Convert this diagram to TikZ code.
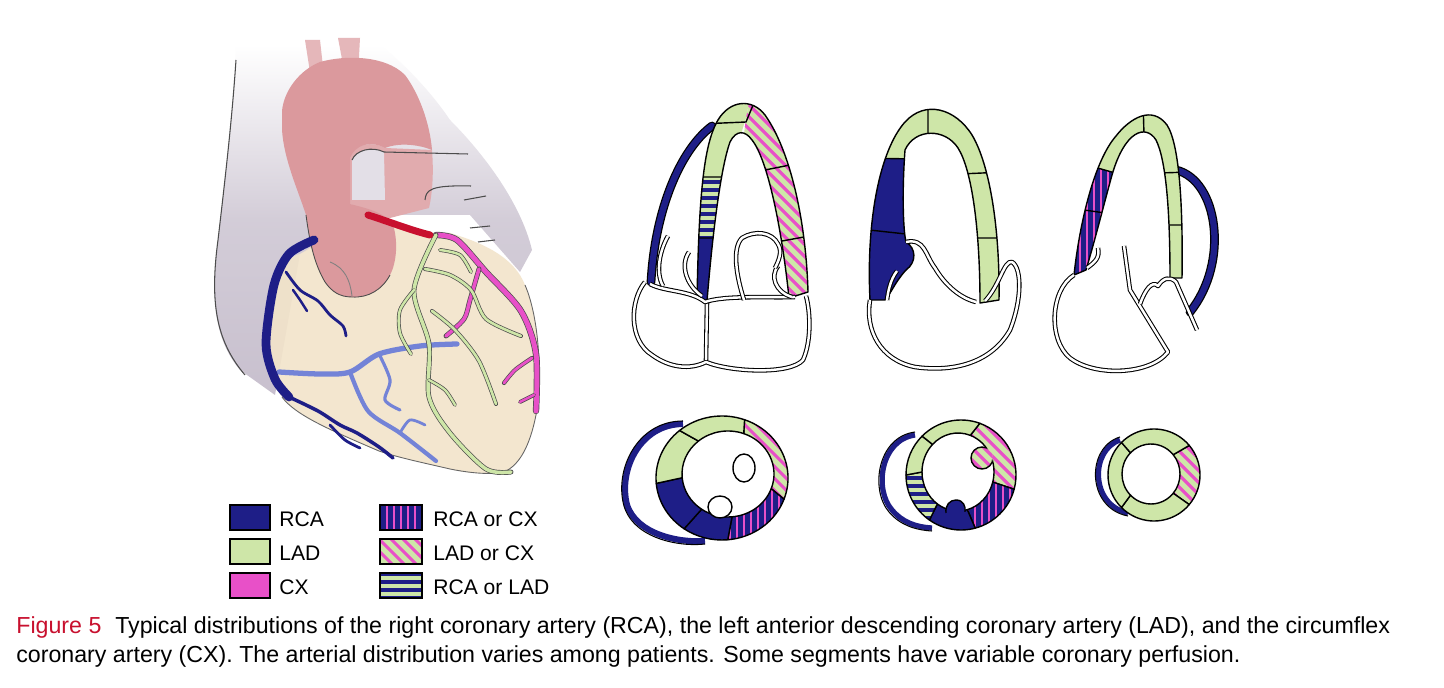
\documentclass[tikz,border=0pt]{standalone}
\usepackage{fontspec}
\setmainfont{Liberation Sans}
\definecolor{cRCA}{RGB}{30,30,135}
\definecolor{cLAD}{RGB}{206,230,168}
\definecolor{cCX}{RGB}{232,80,200}
\definecolor{cGray}{RGB}{200,192,206}
\definecolor{cAorta}{RGB}{212,135,140}
\definecolor{cCream}{RGB}{242,228,202}
\definecolor{cRed}{RGB}{200,16,46}
\definecolor{cBlue2}{RGB}{80,100,205}
\tikzset{
 segl/.style={draw=black,line width=0.8pt,line join=round},
 dbl/.style={draw=black,line width=0.6pt,double=white,double distance=1.4pt,line join=round},
 leg/.style={draw=black,line width=1.2pt},
 legt/.style={anchor=west,font=\fontsize{12}{14}\selectfont,inner sep=0pt},
 capt/.style={anchor=base west,inner sep=0pt,font=\fontsize{13.2}{15}\selectfont},
}
\newcommand\Gfill{\fill[cLAD](0,0) rectangle (1444,688);}
\newcommand\Nfill{\fill[cRCA](0,0) rectangle (1444,688);}
\newcommand\Dfill{\fill[cLAD](0,0) rectangle (1444,688);\foreach \k in {-700,-688,...,1440}{\draw[cCX,line width=1.8pt](\k,0)--++(700,700);}}
\newcommand\Vfill{\fill[cRCA](0,0) rectangle (1444,688);\foreach \k in {2,9,...,1440}{\draw[cCX,line width=1.5pt](\k,0)--(\k,688);}}
\newcommand\Hfill{\fill[cRCA](0,0) rectangle (1444,688);\foreach \k in {2,10,...,688}{\draw[cLAD,line width=1.9pt](0,\k)--(1444,\k);}}
\newcommand\ring[8]{([shift={#1}]#7:#2 and #3) arc[start angle=#7,end angle=#8,x radius=#2,y radius=#3] -- ([shift={#4}]#8:#5 and #6) arc[start angle=#8,end angle=#7,x radius=#5,y radius=#6] -- cycle}
\newcommand\RA[2]{\ring{(722,478)}{66}{62}{(728,474)}{46}{43}{#1}{#2}}
\newcommand\RB[2]{\ring{(961,475)}{55}{55}{(958,472)}{36}{39}{#1}{#2}}
\newcommand\RC[2]{\ring{(1154,475)}{46}{46}{(1151,474)}{29}{30}{#1}{#2}}
\newcommand\segfill[2]{\begin{scope}\clip #2; #1\end{scope}\draw[segl] #2;}
\newcommand\artery[2]{\draw[black,line width=5pt,line cap=round] #2; \draw[#1,line width=3.6pt,line cap=round] #2;}
\newcommand\ves[3]{\draw[#1,line width=#2,line cap=round,line join=round] plot[smooth] coordinates {#3};}
\newcommand\oves[3]{\draw[black!70,line width=#2+0.8pt,line cap=round,line join=round] plot[smooth] coordinates {#3};\draw[#1,line width=#2,line cap=round,line join=round] plot[smooth] coordinates {#3};}
\begin{document}
\begin{tikzpicture}[x=0.02cm,y=-0.02cm]
\useasboundingbox (0,0) rectangle (1444,688);
\fill[white] (0,0) rectangle (1444,688);

% ================= HEART =================
\shade[top color=white,bottom color=cGray,middle color=cGray!80] (236,45) .. controls (232,120) and (225,180) .. (218,240) .. controls (210,300) and (215,340) .. (240,370) -- (275,395) -- (300,254) -- (380,215) -- (470,215) -- (520,272) -- (532,250) .. controls (520,200) and (480,150) .. (450,120) .. controls (430,90) and (400,60) .. (380,45) -- cycle;
\draw[black!70,line width=0.6pt] (236,60) .. controls (232,120) and (225,180) .. (218,240) .. controls (210,300) and (215,340) .. (245,375);
% heart body
\fill[cCream,opacity=0.9] (371,211) .. controls (390,222) and (405,230) .. (421,233) -- (450,233) .. controls (490,245) and (515,260) .. (525,285) .. controls (540,320) and (542,380) .. (536,415) .. controls (530,445) and (520,465) .. (504,472) .. controls (480,475) and (460,472) .. (450,469) .. controls (420,462) and (400,458) .. (379,451) .. controls (330,430) and (295,415) .. (282,397) .. controls (270,380) and (264,360) .. (266,344) .. controls (266,320) and (270,300) .. (275,285) .. controls (282,265) and (292,255) .. (300,254) -- cycle;
\draw[black!60,line width=0.5pt] (282,397) .. controls (295,415) and (330,430) .. (379,451) .. controls (400,458) and (420,462) .. (450,469) .. controls (470,473) and (490,475) .. (504,472) .. controls (520,465) and (530,445) .. (536,415) .. controls (542,380) and (540,320) .. (525,285);
% aorta
\fill[cAorta!70] (350,158) .. controls (352,145) and (372,140) .. (385,148) -- (432,150) .. controls (434,175) and (432,195) .. (429,208) -- (386,219) -- (350,204) -- cycle;
\fill[cAorta!60] (305,40) -- (312,85) -- (325,85) -- (320,40) -- cycle;
\fill[cAorta!60] (338,38) -- (345,75) -- (358,75) -- (360,38) -- cycle;
\fill[cAorta!85] (282,111) .. controls (284,90) and (300,70) .. (320,62) .. controls (345,55) and (385,55) .. (405,75) .. controls (420,95) and (430,125) .. (432,150) .. controls (420,145) and (400,142) .. (385,148) .. controls (370,140) and (355,145) .. (350,158) -- (350,204) .. controls (365,208) and (385,212) .. (393,225) .. controls (398,240) and (397,262) .. (390,275) .. controls (382,290) and (368,298) .. (352,297) .. controls (340,297) and (332,292) .. (325,282) .. controls (315,265) and (310,245) .. (306,215) .. controls (298,190) and (284,160) .. (282,130) -- cycle;
\draw[black!70,line width=0.5pt] (306,215) .. controls (310,245) and (315,265) .. (325,282) .. controls (332,292) and (340,297) .. (352,297) .. controls (368,298) and (382,290) .. (390,275);
\draw[black!50,line width=0.5pt] (352,296) .. controls (350,280) and (345,268) .. (330,262);
\fill[cGray!50] (352,160) .. controls (356,150) and (372,146) .. (384,152) -- (385,200) -- (352,200) -- cycle;
\draw[black!70,line width=0.6pt] (352,160) .. controls (356,150) and (372,146) .. (384,152) -- (468,154);
\draw[black!70,line width=0.6pt] (425,200) .. controls (426,190) and (430,185) .. (471,186);
\draw[black!70,line width=0.6pt] (464,200) -- (486,196) (470,228) -- (490,226) (478,242) -- (495,240);
% vessels
\ves{cBlue2!80}{3pt}{(279,372) (320,374) (350,372) (379,354) (420,346) (457,344)}
\ves{cBlue2!80}{2.4pt}{(350,372) (368,411) (400,433) (436,461)}
\ves{cBlue2!80}{1.8pt}{(379,354) (390,380) (385,400) (400,410)}
\ves{cBlue2!80}{1.6pt}{(400,433) (410,420) (425,425)}
\ves{cRCA}{1.6pt}{(286,272) (300,290) (318,301) (330,315) (343,326) (346,336)}
\ves{cRCA}{1.4pt}{(293,290) (300,300) (307,311)}
\ves{cRCA}{2pt}{(289,397) (318,411) (340,425) (357,433) (379,447) (393,458)}
\ves{cRCA}{1.6pt}{(330,425) (345,440) (360,448)}
\ves{cRCA}{5pt}{(314,240) (289,254) (274,285) (266,344) (275,379) (289,397)}
\oves{cCX}{2.8pt}{(436,235) (457,240) (486,272) (521,311) (536,354) (536,411)}
\oves{cCX}{2pt}{(479,269) (470,300) (464,319) (446,336)}
\oves{cCX}{1.6pt}{(532,358) (515,370) (504,383)}
\oves{cCX}{1.4pt}{(534,395) (520,402)}
\oves{cLAD}{2pt}{(436,235) (414,290) (429,344) (429,397) (450,433) (486,469) (511,472)}
\oves{cLAD}{1.5pt}{(425,269) (450,275) (471,290) (486,319) (521,336)}
\oves{cLAD}{1.5pt}{(432,311) (455,330) (479,361) (496,404)}
\oves{cLAD}{1.4pt}{(414,290) (400,310) (400,333) (411,354)}
\oves{cLAD}{1.4pt}{(440,250) (460,255) (471,272)}
\oves{cLAD}{1.3pt}{(429,380) (445,390) (455,405)}
\draw[cRed,line width=4pt,line cap=round] (368,215) .. controls (390,222) and (410,230) .. (430,235);

% legend
\fill[cRCA] (230,505) rectangle (270,530);
\fill[cLAD] (230,539) rectangle (270,564);
\fill[cCX] (230,573) rectangle (270,598);
\begin{scope}\clip (380,505) rectangle (422,530); \Vfill \end{scope}
\begin{scope}\clip (380,539) rectangle (422,564); \Dfill \end{scope}
\begin{scope}\clip (380,573) rectangle (422,598); \Hfill \end{scope}
\draw[leg] (230,505) rectangle (270,530) (230,539) rectangle (270,564) (230,573) rectangle (270,598);
\draw[leg] (380,505) rectangle (422,530) (380,539) rectangle (422,564) (380,573) rectangle (422,598);
\node[legt] (tRCA) at (279,519) {RCA};
\node[legt] (tLAD) at (279,553) {LAD};
\node[legt] (tCX) at (279,587) {CX};
\node[legt] (tRC) at (433,519) {RCA or CX};
\node[legt] (tLC) at (433,553) {LAD or CX};
\node[legt] (tRL) at (433,587) {RCA or LAD};

% ================= LONG AXIS VIEW 1 =================
\def\bandA{(697,298) .. controls (699,200) and (703,145) .. (718,120) .. controls (730,100) and (752,98) .. (765,115) .. controls (790,150) and (806,220) .. (808,292) -- (789,298) .. controls (782,230) and (768,160) .. (752,140) .. controls (745,130) and (736,130) .. (730,142) .. controls (720,170) and (712,240) .. (707,301) -- cycle}
\artery{cRCA}{(712,126) .. controls (680,150) and (655,210) .. (651,282)}
\begin{scope}\clip \bandA;
 \begin{scope}\clip (650,60)--(757,60)--(746,118)--(736,150)--(736,177)--(650,177)--cycle; \Gfill\end{scope}
 \begin{scope}\clip (650,177) rectangle (736,238); \Hfill\end{scope}
 \begin{scope}\clip (650,238) rectangle (736,320); \Nfill\end{scope}
 \begin{scope}\clip (757,60)--(900,60)--(900,320)--(742,320)--(742,150)--(746,118)--cycle; \Dfill\end{scope}
 \draw[segl] (700,124)--(746,122)--(756,98) (690,177)--(740,177) (690,238)--(740,238) (750,173)--(810,161) (760,245)--(815,235);
\end{scope}
\draw[segl] \bandA;
\draw[dbl] (645,282) .. controls (630,300) and (628,340) .. (652,355) .. controls (670,368) and (690,370) .. (706,362) .. controls (730,372) and (790,375) .. (803,360) .. controls (812,340) and (810,310) .. (806,296);
\draw[dbl] (707,302) -- (706,360);
\draw[dbl] (650,284) .. controls (665,292) and (690,290) .. (705,302) .. controls (725,295) and (770,298) .. (795,297);
\draw[dbl] (668,236) .. controls (660,250) and (655,272) .. (663,286);
\draw[dbl] (689,252) .. controls (680,265) and (686,285) .. (702,296);
\draw[dbl] (778,266) .. controls (770,276) and (775,292) .. (792,297);
\draw[dbl] (744,300) .. controls (736,275) and (732,248) .. (742,238) .. controls (755,230) and (772,232) .. (778,244) .. controls (783,252) and (778,262) .. (775,268);

% ================= LONG AXIS VIEW 2 =================
\def\bandB{(870,300) .. controls (866,220) and (880,150) .. (905,122) .. controls (925,100) and (955,108) .. (972,135) .. controls (990,165) and (1000,230) .. (999,300) -- (980,303) .. controls (980,230) and (972,170) .. (958,148) .. controls (945,128) and (915,128) .. (905,150) .. controls (902,190) and (903,230) .. (906,242) .. controls (916,248) and (917,262) .. (906,270) .. controls (895,282) and (890,295) .. (885,300) -- cycle}
\begin{scope}\clip \bandB;
 \Gfill
 \begin{scope}\clip (850,159) rectangle (916,320); \Nfill\end{scope}
 \draw[segl] (860,158)--(915,159) (928,100)--(928,135) (960,174)--(1005,172) (970,238)--(1005,238) (860,229)--(915,235);
\end{scope}
\draw[segl] \bandB;
\draw[dbl] (870,300) .. controls (865,330) and (880,360) .. (915,367) .. controls (950,372) and (990,365) .. (1010,330) .. controls (1022,300) and (1022,268) .. (1012,262) .. controls (1004,260) and (1000,285) .. (985,301);
\draw[dbl] (906,242) .. controls (925,238) and (925,255) .. (935,268) .. controls (945,285) and (960,298) .. (976,302);
\draw[dbl] (897,271) .. controls (890,280) and (888,292) .. (887,300);

% ================= LONG AXIS VIEW 3 =================
\def\bandC{(1074,275) .. controls (1080,220) and (1095,160) .. (1116,136) .. controls (1130,118) and (1152,105) .. (1167,125) .. controls (1180,145) and (1183,210) .. (1182,278) -- (1170,278) .. controls (1170,210) and (1166,160) .. (1156,140) .. controls (1146,124) and (1125,130) .. (1112,175) .. controls (1105,200) and (1095,240) .. (1086,270) -- cycle}
\artery{cRCA}{(1176,170) .. controls (1218,180) and (1230,262) .. (1190,312)}
\begin{scope}\clip \bandC;
 \Gfill
 \begin{scope}\clip (1000,140)--(1122,175)--(1122,320)--(1000,320)--cycle; \Vfill\end{scope}
 \draw[segl] (1000,140)--(1122,175) (1070,208)--(1105,213) (1143,100)--(1144,135) (1160,173)--(1190,172) (1160,225)--(1190,225);
\end{scope}
\draw[segl] \bandC;
\draw[dbl] (1074,275) .. controls (1050,290) and (1048,340) .. (1070,358) .. controls (1095,377) and (1150,375) .. (1168,352) -- (1130,290) -- (1124,246);
\draw[dbl] (1087,268) .. controls (1095,262) and (1100,258) .. (1098,248);
\draw[dbl] (1140,304) .. controls (1145,290) and (1152,280) .. (1158,286) .. controls (1163,278) and (1170,276) .. (1176,282) -- (1197,330);

% ================= SHORT AXIS 1 =================
\draw[cRCA,line width=3.5pt] (683,424) .. controls (640,424) and (618,470) .. (627,505) .. controls (637,535) and (680,543) .. (705,541);
\draw[black,line width=0.6pt] (683,421) .. controls (637,421) and (614,470) .. (624,506) .. controls (634,539) and (680,547) .. (705,544);
\segfill{\Dfill}{\RA{-70}{20}}
\segfill{\Vfill}{\RA{20}{85}}
\segfill{\Nfill}{\RA{85}{125}}
\segfill{\Nfill}{\RA{125}{175}}
\segfill{\Gfill}{\RA{175}{230}}
\segfill{\Gfill}{\RA{230}{290}}
\draw[segl,fill=white] (744,468) ellipse [x radius=11,y radius=14];
\draw[segl,fill=white] (720,507) ellipse [x radius=12,y radius=11];

% ================= SHORT AXIS 2 =================
\draw[cRCA,line width=3pt] (915,435) .. controls (880,440) and (874,490) .. (892,510) .. controls (902,522) and (915,527) .. (932,528);
\draw[black,line width=0.6pt] (915,432) .. controls (877,437) and (870,490) .. (889,512) .. controls (900,525) and (915,530) .. (932,531);
\segfill{\Dfill}{\RB{-70}{15}}
\segfill{\Vfill}{\RB{15}{75}}
\segfill{\Nfill}{\RB{75}{125}}
\segfill{\Hfill}{\RB{125}{180}}
\segfill{\Gfill}{\RB{180}{225}}
\segfill{\Gfill}{\RB{225}{290}}
\fill[cRCA] (946,516) .. controls (945,505) and (950,500) .. (956,500) .. controls (963,500) and (966,506) .. (965,516) -- cycle;
\draw[segl] (946,513) .. controls (945,505) and (950,500) .. (956,500) .. controls (963,500) and (966,506) .. (965,512);
\begin{scope}\clip (982,458) circle (11); \Dfill\end{scope}
\begin{scope}\clip (958,472) ellipse [x radius=36,y radius=39]; \draw[segl] (982,458) circle (11);\end{scope}

% ================= SHORT AXIS 3 =================
\draw[cRCA,line width=3pt] (1120,440) .. controls (1090,450) and (1090,505) .. (1128,513);
\draw[black,line width=0.6pt] (1120,437) .. controls (1086,447) and (1086,508) .. (1128,516);
\segfill{\Dfill}{\RC{-40}{40}}
\segfill{\Gfill}{\RC{40}{135}}
\segfill{\Gfill}{\RC{135}{225}}
\segfill{\Gfill}{\RC{225}{320}}

% ================= CAPTION =================
\node[capt] (cap1) at (16,634) {\textcolor{cRed}{Figure 5}\hspace{0.6em}Typical distributions of the right coronary artery (RCA), the left anterior descending coronary artery (LAD), and the circumflex};
\node[capt] (cap2) at (16,663) {coronary artery (CX). The arterial distribution varies among patients. Some segments have variable coronary perfusion.};
\end{tikzpicture}
\end{document}
